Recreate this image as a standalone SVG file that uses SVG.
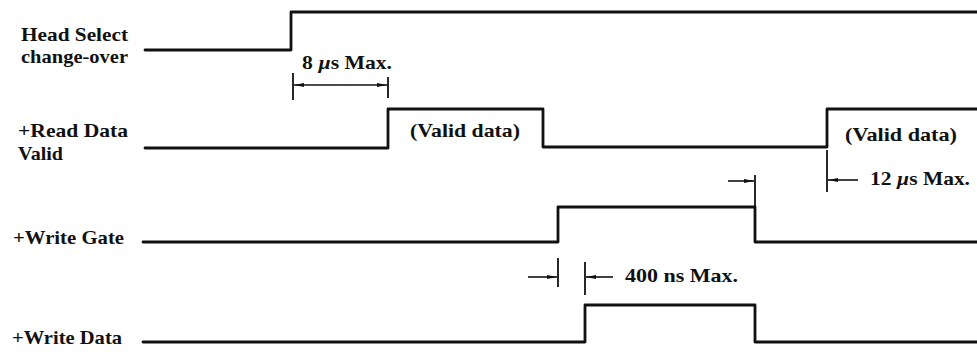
<svg xmlns="http://www.w3.org/2000/svg" width="977" height="352" viewBox="0 0 977 352">
  <defs>
    <marker id="arr" markerUnits="userSpaceOnUse" markerWidth="12" markerHeight="8" refX="10" refY="4" orient="auto-start-reverse">
      <path d="M0,2 L10,4 L0,6 z" fill="#111"/>
    </marker>
    <style>
      .sig { fill: none; stroke: #111; stroke-width: 2.8; stroke-linejoin: round; stroke-linecap: round; }
      .dim { fill: none; stroke: #111; stroke-width: 1.6; }
      .tick { fill: none; stroke: #111; stroke-width: 1.8; }
      text { font-family: "Liberation Serif", "Times New Roman", serif; font-weight: bold; font-size: 19px; fill: #111; }
      .mu { font-style: italic; }
    </style>
  </defs>
  <rect width="977" height="352" fill="#fff"/>

  <g id="head-select">
    <text x="21" y="41" textLength="107" lengthAdjust="spacingAndGlyphs">Head Select</text>
    <text x="21" y="63" textLength="107" lengthAdjust="spacingAndGlyphs">change-over</text>
    <path class="sig" d="M145,50 H291 V12 H977"/>
  </g>

  <g id="read-data-valid">
    <text x="18" y="137" textLength="110" lengthAdjust="spacingAndGlyphs">+Read Data</text>
    <text x="18" y="160" textLength="45" lengthAdjust="spacingAndGlyphs">Valid</text>
    <path class="sig" d="M145,148 H388 V109 H543 V147 H827 V109 H977"/>
    <text x="410" y="137" textLength="110" lengthAdjust="spacingAndGlyphs">(Valid data)</text>
    <text x="845" y="141" textLength="112" lengthAdjust="spacingAndGlyphs">(Valid data)</text>
  </g>

  <g id="write-gate">
    <text x="13" y="244" textLength="111" lengthAdjust="spacingAndGlyphs">+Write Gate</text>
    <path class="sig" d="M143,242 H558 V207 H755 V242 H977"/>
  </g>

  <g id="write-data">
    <text x="12" y="344" textLength="110" lengthAdjust="spacingAndGlyphs">+Write Data</text>
    <path class="sig" d="M143,342 H585 V305 H755 V342 H977"/>
  </g>

  <g id="connectors">
    <line class="tick" x1="293" y1="73" x2="293" y2="100"/>
    <line class="tick" x1="388" y1="77" x2="388" y2="98"/>
    <line class="dim" x1="294" y1="85" x2="387" y2="85" marker-start="url(#arr)" marker-end="url(#arr)"/>
    <text x="302" y="69" textLength="90" lengthAdjust="spacingAndGlyphs">8 <tspan class="mu">µ</tspan>s Max.</text>

    <line class="tick" x1="755" y1="175" x2="755" y2="207"/>
    <line class="dim" x1="728" y1="181" x2="754" y2="181" marker-end="url(#arr)"/>
    <line class="tick" x1="827" y1="150" x2="827" y2="192"/>
    <line class="dim" x1="858" y1="180" x2="828" y2="180" marker-end="url(#arr)"/>
    <text x="870" y="185" textLength="100" lengthAdjust="spacingAndGlyphs">12 <tspan class="mu">µ</tspan>s Max.</text>

    <line class="tick" x1="558" y1="258" x2="558" y2="287"/>
    <line class="dim" x1="528" y1="277" x2="557" y2="277" marker-end="url(#arr)"/>
    <line class="tick" x1="585" y1="262" x2="585" y2="295"/>
    <line class="dim" x1="613" y1="277" x2="586" y2="277" marker-end="url(#arr)"/>
    <text x="625" y="282" textLength="113" lengthAdjust="spacingAndGlyphs">400 ns Max.</text>
  </g>
</svg>
